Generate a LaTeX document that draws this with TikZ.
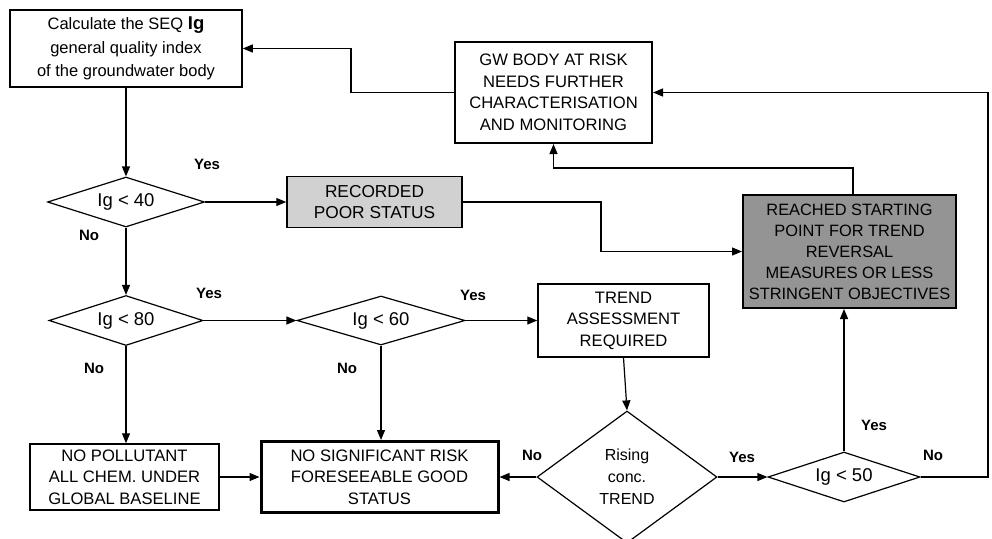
\documentclass[tikz,border=0pt]{standalone}
\usepackage{fontspec}
\setmainfont{Liberation Sans}
\usetikzlibrary{shapes.geometric,arrows.meta}
\begin{document}
\begin{tikzpicture}[x=1pt,y=-1pt,
  box/.style={draw,line width=1.5pt,inner sep=0pt,align=center,font=\fontsize{16.6}{21.5}\selectfont},
  dia/.style={draw,diamond,line width=1.2pt,inner sep=0pt,align=center,font=\fontsize{18.5}{20}\selectfont},
  lbl/.style={font=\bfseries\fontsize{15}{15}\selectfont},
  conn/.style={line width=1.2pt,-{Triangle[length=10pt,width=8pt]}},
  plain/.style={line width=1.2pt}]
\useasboundingbox (0,0) rectangle (992,538);
\fill[white] (0,0) rectangle (992,538);

% boxes
\node[box,minimum width=232pt,minimum height=77pt,font=\fontsize{16.5}{23.5}\selectfont] (calc) at (126,48.5)
  {Calculate the SEQ \textbf{\fontsize{18.5}{23.5}\selectfont Ig}\\general quality index\\of the groundwater body};
\node[box,line width=2pt,minimum width=197pt,minimum height=101pt] (gw) at (553.5,92.5)
  {GW BODY AT RISK\\NEEDS FURTHER\\CHARACTERISATION\\AND MONITORING};
\node[box,fill=black!18,minimum width=175pt,minimum height=51pt,font=\fontsize{17.3}{21}\selectfont] (poor) at (374.5,202)
  {RECORDED\\POOR STATUS};
\node[box,line width=2pt,fill=black!42,minimum width=213pt,minimum height=113pt,font=\fontsize{16.4}{21}\selectfont] (reached) at (849.5,251.5)
  {REACHED STARTING\\POINT FOR TREND\\REVERSAL\\MEASURES OR LESS\\STRINGENT OBJECTIVES};
\node[box,minimum width=171pt,minimum height=73pt] (trend) at (623.5,320.5)
  {TREND\\ASSESSMENT\\REQUIRED};
\node[box,minimum width=189pt,minimum height=66pt] (nopol) at (124.5,477)
  {NO POLLUTANT\\ALL CHEM. UNDER\\GLOBAL BASELINE};
\node[box,line width=3pt,minimum width=237pt,minimum height=71pt] (nosig) at (379.5,477)
  {NO SIGNIFICANT RISK\\FORESEEABLE GOOD\\STATUS};

% diamonds
\node[dia,minimum width=157pt,minimum height=50pt,aspect=3.14] (d40) at (126,202) {Ig < 40};
\node[dia,minimum width=154pt,minimum height=50pt,aspect=3.08] (d80) at (126,320.5) {Ig < 80};
\node[dia,minimum width=168pt,minimum height=49pt,aspect=3.4] (d60) at (381,320.5) {Ig < 60};
\node[dia,minimum width=180pt,minimum height=132pt,aspect=1.36,font=\fontsize{16}{22}\selectfont] (rise) at (627,477) {Rising\\conc.\\TREND};
\node[dia,minimum width=152pt,minimum height=50pt,aspect=3.04] (d50) at (844,477) {Ig < 50};

% connectors
\draw[conn] (calc.south) -- (d40.north);
\draw[conn] (d40.east) -- (poor.west);
\draw[conn] (d40.south) -- (d80.north);
\draw[conn] (d80.east) -- (d60.west);
\draw[conn] (d60.east) -- (trend.west);
\draw[conn] (d80.south) -- (nopol.north -| d80.south);
\draw[conn] (d60.south) -- (nosig.north -| d60.south);
\draw[conn] (nopol.east) -- (nosig.west);
\draw[conn] (trend.south) -- (rise.north);
\draw[conn] (rise.west) -- (nosig.east |- rise.west);
\draw[conn] (rise.east) -- (d50.west);
\draw[conn] (d50.north) -- (d50.north |- reached.south);

\coordinate (k0) at (601,202);
\draw[conn] (poor.east) -- (k0) |- (reached.west);

\coordinate (k1) at (853,168);
\draw[conn] (reached.north -| k1) -- (k1) -| (gw.south);

\coordinate (k2) at (988,477);
\draw[conn] (d50.east) -- (k2) |- (gw.east);

\coordinate (k3) at (351,92.5);
\draw[conn] (gw.west) -- (k3) |- (calc.east);

% labels
\node[lbl] (l1) at (207,164) {Yes};
\node[lbl] (l2) at (89,235) {No};
\node[lbl] (l3) at (209,293) {Yes};
\node[lbl] (l4) at (94,368) {No};
\node[lbl] (l5) at (473,295) {Yes};
\node[lbl] (l6) at (347,368) {No};
\node[lbl] (l7) at (532,455) {No};
\node[lbl] (l8) at (742,457) {Yes};
\node[lbl] (l9) at (874,425) {Yes};
\node[lbl] (l10) at (933,455) {No};
\end{tikzpicture}
\end{document}
